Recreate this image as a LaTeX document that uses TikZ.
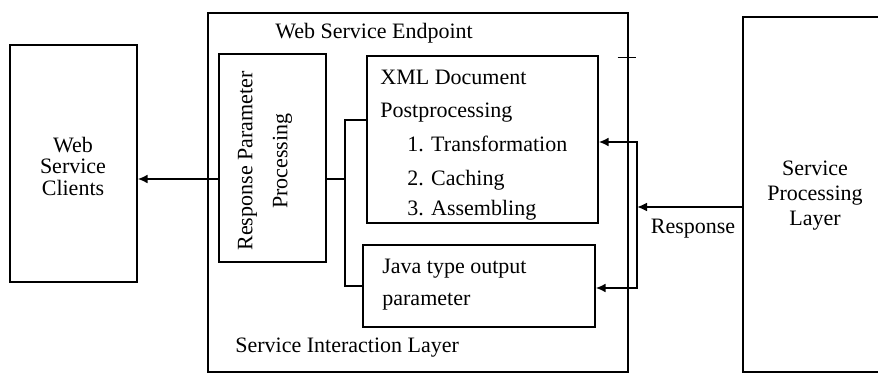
\documentclass[tikz,border=0pt]{standalone}
\usepackage{fontspec}
\setmainfont{Liberation Serif}
\usetikzlibrary{arrows.meta,fit,calc}
\begin{document}
\begin{tikzpicture}[x=0.5pt,y=-0.5pt,
  box/.style={draw, line width=0.6pt, inner sep=0pt},
  txt/.style={font=\fontsize{11}{13}\selectfont, inner sep=0pt},
  wire/.style={line width=1.1pt},
  arr/.style={wire, -{Latex[length=5pt,width=4.5pt]}}]
\clip (0,0) rectangle (878,374);
\fill[white] (0,0) rectangle (878,374);

% boxes
\node[box, fit={(208,13) (628,372)}] (sil) {};
\node[box, fit={(10,45) (137,282)}] (clients) {};
\node[box, fit={(219,54) (326,262)}] (resp) {};
\node[box, fit={(367,56) (598,223)}] (xml) {};
\node[box, fit={(363,245) (595,327)}] (java) {};
\node[box, fit={(743,17) (900,372)}] (spl) {};

% small tick on the endpoint border
\draw[line width=0.5pt] ($(sil.east |- 0,58)+(-11,0)$) -- ++(18,0);

% labels
\node[txt, anchor=base west] (wse) at (275,39) {Web Service Endpoint};
\node[txt, anchor=base west] (silt) at (235,352) {Service Interaction Layer};
\node[txt, align=center, font=\fontsize{11}{10.75}\selectfont] (clt) at (73,166) {Web\\Service\\Clients};
\node[txt, align=center, font=\fontsize{11}{12.5}\selectfont] (splt) at (815,196) {Service\\Processing\\Layer};
\node[txt, rotate=90, align=center, font=\fontsize{11}{17.5}\selectfont] (respt) at (265,161) {Response Parameter\\Processing};
\node[txt, anchor=base west] (x1) at (380,85) {XML Document};
\node[txt, anchor=base west] (x2) at (380,118) {Postprocessing};
\node[txt, anchor=base west] (x3) at (407,152) {1. Transformation};
\node[txt, anchor=base west] (x4) at (407,185) {2. Caching};
\node[txt, anchor=base west] (x5) at (407,215) {3. Assembling};
\node[txt, anchor=base west] (j1) at (382,273) {Java type output};
\node[txt, anchor=base west] (j2) at (382,305) {parameter};
\node[txt, anchor=base] (rlab) at (693,233) {Response};

% connectors
\coordinate (ra) at (219,179);
\draw[arr] (resp.west |- ra) -- (clients.east |- ra);
\coordinate (lj) at (345,179);
\draw[wire] (resp.east |- lj) -- (lj);
\draw[wire] (xml.west |- 0,120) -- (lj |- 0,120) -- (lj |- 0,286) -- (java.west |- 0,286);

\coordinate (rj) at (637,207);
\draw[arr] (spl.west |- rj) -- (rj);
\draw[arr] (rj) -- (rj |- 0,142) -- (xml.east |- 0,142);
\draw[arr] (rj) -- (rj |- 0,288) -- (java.east |- 0,288);
\end{tikzpicture}
\end{document}
